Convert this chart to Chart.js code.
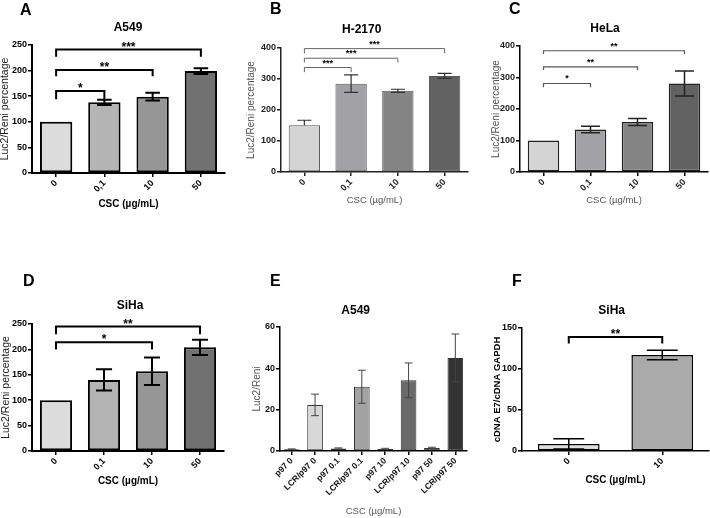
<!DOCTYPE html>
<html>
<head>
<meta charset="utf-8">
<script src="https://cdn.jsdelivr.net/npm/chart.js@4.4.1/dist/chart.umd.min.js"></script>
<style>
  body { margin: 0; background: #fff; font-family: "Liberation Sans", Arial, sans-serif; }
  #fig { position: relative; width: 710px; height: 518px; overflow: hidden; }
  .panel { position: absolute; }
  .letter { position: absolute; font-weight: bold; font-size: 16px; line-height: 1; color: #000; }
  .title { position: absolute; font-weight: bold; font-size: 12px; line-height: 1; color: #000;
           transform: translate(-50%, -50%); white-space: nowrap; }
</style>
</head>
<body>
<div id="fig"></div>
<script>
// ---- data ----
const doseLabels = ['0', '0,1', '10', '50'];

const a549Mean = [100, 138, 149, 199];
const a549Err = [0, 5, 7.5, 5.5];
const a549Sig = [[0, 1, 160, 144, '*'], [0, 2, 201, 189, '**'], [0, 3, 241, 227, '***']];
const a549Ticks = [0, 50, 100, 150, 200, 250];

const h2170Mean = [151, 285, 262, 310];
const h2170ErrUp = [16, 28, 5, 8];
const h2170ErrDown = [0, 28, 5, 8];
const h2170Sig = [[0, 1, 337, 322, '***'], [0, 2, 367, 353, '***'], [0, 3, 398, 383, '***']];
const h2170Ticks = [0, 100, 200, 300, 400];

const helaMean = [100, 135, 159, 281];
const helaErr = [0, 10, 11, 40];
const helaSig = [[0, 1, 281, 269, '*'], [0, 2, 334, 324, '**'], [0, 3, 385, 375, '**']];
const helaTicks = [0, 100, 200, 300, 400];

const sihaMean = [100, 140, 157, 204];
const sihaErr = [0, 21, 27, 15];
const sihaSig = [[0, 2, 214, 200, '*'], [0, 3, 245, 230, '**']];
const sihaTicks = [0, 50, 100, 150, 200, 250];

const reporterLabels = ['p97 0', 'LCR/p97 0', 'p97 0.1', 'LCR/p97 0.1', 'p97 10', 'LCR/p97 10', 'p97 50', 'LCR/p97 50'];
const reporterMean = [0.8, 22.3, 1.2, 31.1, 1.0, 34.2, 1.5, 45];
const reporterErr = [0.2, 5.2, 0.3, 8, 0.3, 8.4, 0.3, 11.6];
const reporterTicks = [0, 20, 40, 60];

const e7Labels = ['0', '10'];
const e7Mean = [8.6, 117];
const e7Err = [6.3, 5.8];
const e7Sig = [[0, 1, 139, 131, '**']];
const e7Ticks = [0, 50, 100, 150];

// ---- layout / style ----
const FONT = '"Liberation Sans", Arial, sans-serif';
const fig = document.getElementById('fig');

const panels = [
  { letter: 'A', letterPos: [20, 2], title: 'A549', titlePos: [128, 26.5],
    box: [0, 0, 235, 220], area: { l: 32, t: 45, r: 225, b: 173 },
    labels: doseLabels, mean: a549Mean, errUp: a549Err, errDown: a549Err, sig: a549Sig, ticks: a549Ticks,
    colors: ['#dcdcdc', '#b4b4b4', '#969696', '#717171'], border: '#000', borderW: 2,
    axisColor: '#000', axisW: 2, errColor: '#000', errW: 2, cap: 0.45, barPct: 0.67,
    sigColor: '#000', sigW: 2, starSize: 12, starGap: -1,
    yTitle: { text: 'Luc2/Reni percentage', size: 10.5, weight: 'normal', color: '#222', c: 5 },
    xTitle: { text: 'CSC (µg/mL)', size: 10, weight: 'bold', color: '#000', c: 204 },
    tickColor: '#000', xTickSize: 9 },
  { letter: 'B', letterPos: [270, 1], title: 'H-2170', titlePos: [361.7, 29],
    box: [235, 0, 235, 220], area: { l: 46, t: 48, r: 233, b: 172 },
    labels: doseLabels, mean: h2170Mean, errUp: h2170ErrUp, errDown: h2170ErrDown, sig: h2170Sig, ticks: h2170Ticks,
    colors: ['#d4d4d4', '#a2a2a6', '#848484', '#626262'], border: '#555', borderW: 1,
    axisColor: '#222', axisW: 1.5, errColor: '#333', errW: 1.2, cap: 0.45, barPct: 0.67,
    sigColor: '#666', sigW: 1, starSize: 9, starGap: 2,
    yTitle: { text: 'Luc2/Reni percentage', size: 10, weight: 'normal', color: '#555', c: 16.5 },
    xTitle: { text: 'CSC (µg/mL)', size: 9.5, weight: 'normal', color: '#555', c: 200 },
    tickColor: '#222', xTickSize: 9 },
  { letter: 'C', letterPos: [509, 1], title: 'HeLa', titlePos: [605, 28],
    box: [470, 0, 240, 220], area: { l: 50, t: 46, r: 238, b: 172 },
    labels: doseLabels, mean: helaMean, errUp: helaErr, errDown: helaErr, sig: helaSig, ticks: helaTicks,
    colors: ['#d4d4d4', '#a2a2a6', '#848484', '#626262'], border: '#222', borderW: 1.5,
    axisColor: '#000', axisW: 1.5, errColor: '#222', errW: 1.5, cap: 0.6, barPct: 0.67,
    sigColor: '#555', sigW: 1.2, starSize: 9, starGap: 2,
    yTitle: { text: 'Luc2/Reni percentage', size: 10, weight: 'normal', color: '#555', c: 26 },
    xTitle: { text: 'CSC (µg/mL)', size: 9.5, weight: 'normal', color: '#555', c: 200 },
    tickColor: '#222', xTickSize: 9 },
  { letter: 'D', letterPos: [23, 273], title: 'SiHa', titlePos: [130, 305],
    box: [0, 250, 235, 268], area: { l: 32, t: 74, r: 224, b: 201 },
    labels: doseLabels, mean: sihaMean, errUp: sihaErr, errDown: sihaErr, sig: sihaSig, ticks: sihaTicks,
    colors: ['#dcdcdc', '#b4b4b4', '#969696', '#717171'], border: '#000', borderW: 2,
    axisColor: '#000', axisW: 2, errColor: '#000', errW: 2, cap: 0.5, barPct: 0.67,
    sigColor: '#000', sigW: 2, starSize: 12, starGap: -1,
    yTitle: { text: 'Luc2/Reni percentage', size: 10.5, weight: 'normal', color: '#222', c: 6 },
    xTitle: { text: 'CSC (µg/mL)', size: 10, weight: 'bold', color: '#000', c: 231.3 },
    tickColor: '#000', xTickSize: 9 },
  { letter: 'E', letterPos: [270, 273], title: 'A549', titlePos: [355.7, 309.5],
    box: [235, 250, 235, 268], area: { l: 45, t: 77, r: 232, b: 201 },
    labels: reporterLabels, mean: reporterMean, errUp: reporterErr, errDown: reporterErr, sig: [], ticks: reporterTicks,
    colors: ['#bdbdbd', '#d8d8d8', '#a5a5a5', '#a3a3a3', '#6e6e6e', '#6a6a6a', '#404040', '#333333'],
    border: '#333', borderW: 1,
    axisColor: '#000', axisW: 1.5, errColor: '#444', errW: 1, cap: 0.5, barPct: 0.67,
    sigColor: '#000', sigW: 1, starSize: 9, starGap: 2,
    yTitle: { text: 'Luc2/Reni', size: 10, weight: 'normal', color: '#555', c: 22.5 },
    xTitle: { text: 'CSC (µg/mL)', size: 9.5, weight: 'normal', color: '#555', c: 261.7 },
    tickColor: '#111', xTickSize: 8.5 },
  { letter: 'F', letterPos: [512, 273], title: 'SiHa', titlePos: [611.7, 310],
    box: [470, 250, 240, 268], area: { l: 52, t: 78, r: 239, b: 201 },
    labels: e7Labels, mean: e7Mean, errUp: e7Err, errDown: e7Err, sig: e7Sig, ticks: e7Ticks,
    colors: ['#e0e0e0', '#aaaaaa'], border: '#000', borderW: 1.5,
    axisColor: '#000', axisW: 1.5, errColor: '#000', errW: 1.5, cap: 0.5, barPct: 0.66,
    sigColor: '#000', sigW: 2, starSize: 12, starGap: -1,
    yTitle: { text: 'cDNA E7/cDNA GAPDH', size: 9.5, weight: 'bold', color: '#000', c: 27 },
    xTitle: { text: 'CSC (µg/mL)', size: 10, weight: 'bold', color: '#000', c: 230 },
    tickColor: '#000', xTickSize: 9 }
];

// error bars + significance brackets, drawn through the chart's own scales
function overlayFor(p) {
  return {
    id: 'overlay',
    afterDatasetsDraw(chart) {
      const { ctx, scales: { y } } = chart;
      const bars = chart.getDatasetMeta(0).data;
      ctx.save();
      ctx.strokeStyle = p.errColor;
      ctx.lineWidth = p.errW;
      p.mean.forEach((m, i) => {
        const up = p.errUp[i], down = p.errDown[i];
        if (!up && !down) return;
        const cx = bars[i].x, half = bars[i].width * p.cap / 2;
        const yt = y.getPixelForValue(m + up), yb = y.getPixelForValue(m - down);
        ctx.beginPath();
        ctx.moveTo(cx, yt); ctx.lineTo(cx, yb);
        ctx.moveTo(cx - half, yt); ctx.lineTo(cx + half, yt);
        if (down) { ctx.moveTo(cx - half, yb); ctx.lineTo(cx + half, yb); }
        ctx.stroke();
      });
      ctx.strokeStyle = p.sigColor;
      ctx.lineWidth = p.sigW;
      ctx.fillStyle = '#000';
      ctx.font = 'bold ' + p.starSize + 'px ' + FONT;
      ctx.textAlign = 'center';
      ctx.textBaseline = 'alphabetic';
      p.sig.forEach(([a, b, top, drop, label]) => {
        const xa = bars[a].x, xb = bars[b].x;
        const yt = y.getPixelForValue(top), yd = y.getPixelForValue(drop);
        ctx.beginPath();
        ctx.moveTo(xa, yd); ctx.lineTo(xa, yt); ctx.lineTo(xb, yt); ctx.lineTo(xb, yd);
        ctx.stroke();
        ctx.fillText(label, (xa + xb) / 2, yt - p.starGap);
      });
      ctx.restore();
    }
  };
}

panels.forEach(p => {
  const [bx, by, bw, bh] = p.box;
  const wrap = document.createElement('div');
  wrap.className = 'panel';
  wrap.style.left = bx + 'px';
  wrap.style.top = by + 'px';
  const canvas = document.createElement('canvas');
  canvas.width = bw;
  canvas.height = bh;
  wrap.appendChild(canvas);
  fig.appendChild(wrap);

  const letter = document.createElement('div');
  letter.className = 'letter';
  letter.textContent = p.letter;
  letter.style.left = p.letterPos[0] + 'px';
  letter.style.top = p.letterPos[1] + 'px';
  fig.appendChild(letter);

  const title = document.createElement('div');
  title.className = 'title';
  title.textContent = p.title;
  title.style.left = p.titlePos[0] + 'px';
  title.style.top = p.titlePos[1] + 'px';
  fig.appendChild(title);

  const a = p.area;
  new Chart(canvas, {
    type: 'bar',
    data: {
      labels: p.labels,
      datasets: [{
        data: p.mean,
        backgroundColor: p.colors,
        borderColor: p.border,
        borderWidth: p.borderW,
        borderSkipped: false,
        barPercentage: p.barPct,
        categoryPercentage: 1
      }]
    },
    options: {
      responsive: false,
      animation: false,
      devicePixelRatio: 1,
      layout: { padding: { left: 0, top: a.t, right: bw - a.r, bottom: 0 } },
      plugins: { legend: { display: false }, title: { display: false }, tooltip: { enabled: false } },
      scales: {
        x: {
          grid: { display: true, drawOnChartArea: false, drawTicks: true, tickLength: 4,
                  color: p.axisColor, lineWidth: 1.5, offset: false },
          border: { display: true, color: p.axisColor, width: p.axisW },
          ticks: { autoSkip: false, maxRotation: 45, minRotation: 45, padding: 1,
                   color: p.tickColor, font: { family: FONT, size: p.xTickSize, weight: 'bold' } },
          title: { display: true, text: p.xTitle.text, color: p.xTitle.color,
                   padding: { top: 0, bottom: bh - p.xTitle.c - p.xTitle.size / 2 },
                   font: { family: FONT, size: p.xTitle.size, weight: p.xTitle.weight, lineHeight: 1 } },
          afterFit: s => { s.height = bh - a.b; }
        },
        y: {
          min: 0,
          max: p.ticks[p.ticks.length - 1],
          afterBuildTicks: s => { s.ticks = p.ticks.map(v => ({ value: v })); },
          grid: { display: true, drawOnChartArea: false, drawTicks: true, tickLength: 4,
                  color: p.axisColor, lineWidth: 1.5 },
          border: { display: true, color: p.axisColor, width: p.axisW },
          ticks: { padding: 1, color: p.tickColor, font: { family: FONT, size: 9, weight: 'bold' } },
          title: { display: true, text: p.yTitle.text, color: p.yTitle.color,
                   padding: { top: Math.max(p.yTitle.c - p.yTitle.size / 2, 0), bottom: 0 },
                   font: { family: FONT, size: p.yTitle.size, weight: p.yTitle.weight, lineHeight: 1 } },
          afterFit: s => { s.width = a.l; }
        }
      }
    },
    plugins: [overlayFor(p)]
  });
});
</script>
</body>
</html>
